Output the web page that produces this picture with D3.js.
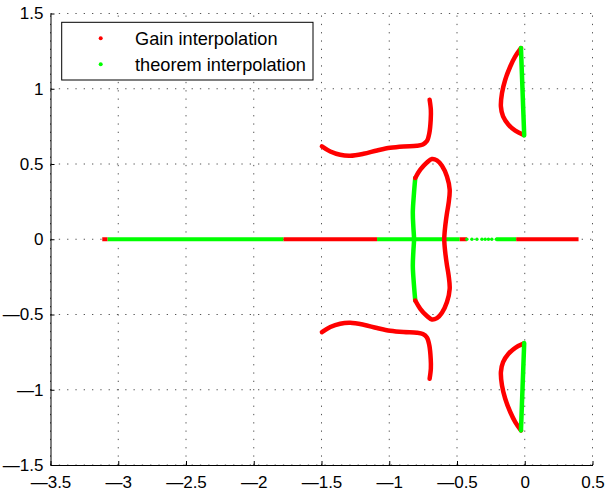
<!DOCTYPE html>
<html>
<head>
<meta charset="utf-8">
<script src="https://d3js.org/d3.v7.min.js"></script>
<style>
  body { margin: 0; background: #fff; }
  text { font-family: "Liberation Sans", Arial, Helvetica, sans-serif; }
</style>
</head>
<body>
<div id="chart"></div>
<script>
// tick values
const xTicks = [-3.5, -3, -2.5, -2, -1.5, -1, -0.5, 0, 0.5];
const yTicks = [-1.5, -1, -0.5, 0, 0.5, 1, 1.5];

// legend
const seriesNames = ["Gain interpolation", "theorem interpolation"];

// real-axis pieces [from, to]
const axisRed = [[-3.118, -3.08], [-1.78, -1.09], [-0.48, -0.427], [-0.063, 0.397]];
const axisGreen = [[-3.08, -1.78], [-1.09, -0.48], [-0.21, -0.063]];
const axisGreenDots = [-0.427, -0.39, -0.353, -0.316, -0.292, -0.268, -0.243, -0.21];

// red loop around -0.7
const innerLoop = [[-0.808,0.407],[-0.771,0.462],[-0.722,0.510],[-0.685,0.533],[-0.648,0.524],[-0.611,0.488],
  [-0.574,0.417],[-0.554,0.329],[-0.562,0.24],[-0.574,0.174],[-0.587,0.085],[-0.594,0],[-0.587,-0.085],
  [-0.574,-0.174],[-0.562,-0.24],[-0.554,-0.329],[-0.574,-0.417],[-0.611,-0.488],[-0.648,-0.524],
  [-0.685,-0.533],[-0.722,-0.510],[-0.771,-0.462],[-0.808,-0.407]];
// green vertical at -0.82
const innerGreen = [[-0.808,0.407],[-0.818,0.3],[-0.826,0.18],[-0.822,0.08],[-0.817,0],[-0.822,-0.08],
  [-0.826,-0.18],[-0.818,-0.3],[-0.808,-0.407]];
// outer red branches
const upperBranch = [[-1.497,0.617],[-1.435,0.583],[-1.362,0.561],[-1.288,0.555],[-1.19,0.568],[-1.09,0.59],
  [-0.993,0.608],[-0.894,0.617],[-0.796,0.621],[-0.752,0.63],[-0.722,0.652],[-0.704,0.706],[-0.694,0.794],
  [-0.693,0.86],[-0.702,0.927]];
const lowerBranch = [[-1.497,-0.617],[-1.435,-0.583],[-1.362,-0.561],[-1.288,-0.555],[-1.19,-0.568],[-1.09,-0.59],
  [-0.993,-0.608],[-0.894,-0.617],[-0.796,-0.621],[-0.752,-0.63],[-0.722,-0.652],[-0.704,-0.706],[-0.694,-0.794],
  [-0.693,-0.86],[-0.702,-0.927]];
// teardrops near the imaginary axis
const upperDropRed = [[-0.028,1.27],[-0.07,1.215],[-0.107,1.148],[-0.144,1.06],[-0.168,0.971],[-0.176,0.882],
  [-0.16,0.816],[-0.12,0.761],[-0.07,0.721],[-0.009,0.694]];
const upperDropGreen = [[-0.028,1.27],[-0.016,0.98],[-0.004,0.69]];
const lowerDropRed = [[-0.028,-1.27],[-0.07,-1.215],[-0.107,-1.148],[-0.144,-1.06],[-0.168,-0.971],[-0.176,-0.882],
  [-0.16,-0.816],[-0.12,-0.761],[-0.07,-0.721],[-0.009,-0.694]];
const lowerDropGreen = [[-0.028,-1.27],[-0.016,-0.98],[-0.004,-0.69]];

const W = 605, H = 491;
const mLeft = 50.5, mRight = 592.5, mTop = 13.5, mBottom = 465;
const RED = "#ff0000", GREEN = "#00ff00";

const svg = d3.select("#chart").append("svg")
  .attr("width", W).attr("height", H);

const x = d3.scaleLinear().domain([-3.5, 0.5]).range([mLeft, mRight]);
const y = d3.scaleLinear().domain([-1.5, 1.5]).range([mBottom, mTop]);

// MATLAB-style long minus
const fmt = d => (d < 0 ? "\u2014" : "") + Math.abs(d);

// dotted grid
svg.append("g").selectAll("line").data(xTicks).enter().append("line")
  .attr("x1", d => x(d)).attr("x2", d => x(d))
  .attr("y1", mBottom).attr("y2", mTop)
  .attr("stroke", "#555").attr("stroke-width", 1).attr("stroke-dasharray", "1.3,7");
svg.append("g").selectAll("line").data(yTicks).enter().append("line")
  .attr("y1", d => y(d)).attr("y2", d => y(d))
  .attr("x1", mLeft).attr("x2", mRight)
  .attr("stroke", "#555").attr("stroke-width", 1).attr("stroke-dasharray", "1.3,7");

// axes (ticks inside)
const gx = svg.append("g").attr("transform", `translate(0,${mBottom})`)
  .call(d3.axisBottom(x).tickValues(xTicks).tickFormat(fmt).tickSizeInner(-4).tickSizeOuter(0).tickPadding(11));
const gy = svg.append("g").attr("transform", `translate(${mLeft},0)`)
  .call(d3.axisLeft(y).tickValues(yTicks).tickFormat(fmt).tickSizeInner(-4).tickSizeOuter(0).tickPadding(7));
[gx, gy].forEach(g => {
  g.attr("font-size", null).attr("font-family", null);
  g.selectAll("text").style("font-size", "17px").attr("fill", "#000");
  g.selectAll("line").attr("stroke", "#000");
  g.select(".domain").attr("stroke", "#000");
});

const line = d3.line().x(d => x(d[0])).y(d => y(d[1])).curve(d3.curveCatmullRom);
const plot = svg.append("g");

// real axis
plot.selectAll(".ag").data(axisGreen).enter().append("line")
  .attr("x1", d => x(d[0])).attr("x2", d => x(d[1]))
  .attr("y1", y(0)).attr("y2", y(0))
  .attr("stroke", GREEN).attr("stroke-width", 4);
plot.selectAll(".ar").data(axisRed).enter().append("line")
  .attr("x1", d => x(d[0])).attr("x2", d => x(d[1]))
  .attr("y1", y(0)).attr("y2", y(0))
  .attr("stroke", RED).attr("stroke-width", 4);
plot.selectAll(".ad").data(axisGreenDots).enter().append("circle")
  .attr("cx", d => x(d)).attr("cy", y(0)).attr("r", 1.7)
  .attr("fill", GREEN);

// curves
const curves = [
  [upperBranch, RED], [lowerBranch, RED],
  [innerGreen, GREEN], [innerLoop, RED],
  [upperDropRed, RED], [lowerDropRed, RED],
  [upperDropGreen, GREEN], [lowerDropGreen, GREEN]
];
curves.forEach(c => {
  plot.append("path").attr("d", line(c[0]))
    .attr("fill", "none").attr("stroke", c[1])
    .attr("stroke-width", 4.5).attr("stroke-linecap", "round").attr("stroke-linejoin", "round");
});

// legend
const lg = svg.append("g");
lg.append("rect").attr("x", 61.7).attr("y", 22.3).attr("width", 251.3).attr("height", 57.7)
  .attr("fill", "#fff").attr("stroke", "#000").attr("stroke-width", 1);
[RED, GREEN].forEach((c, i) => {
  lg.append("circle").attr("cx", 100.7).attr("cy", 38.3 + i * 26).attr("r", 2).attr("fill", c);
  lg.append("text").attr("x", 135).attr("y", 45 + i * 26)
    .style("font-size", "18.2px").text(seriesNames[i]);
});
</script>
</body>
</html>
